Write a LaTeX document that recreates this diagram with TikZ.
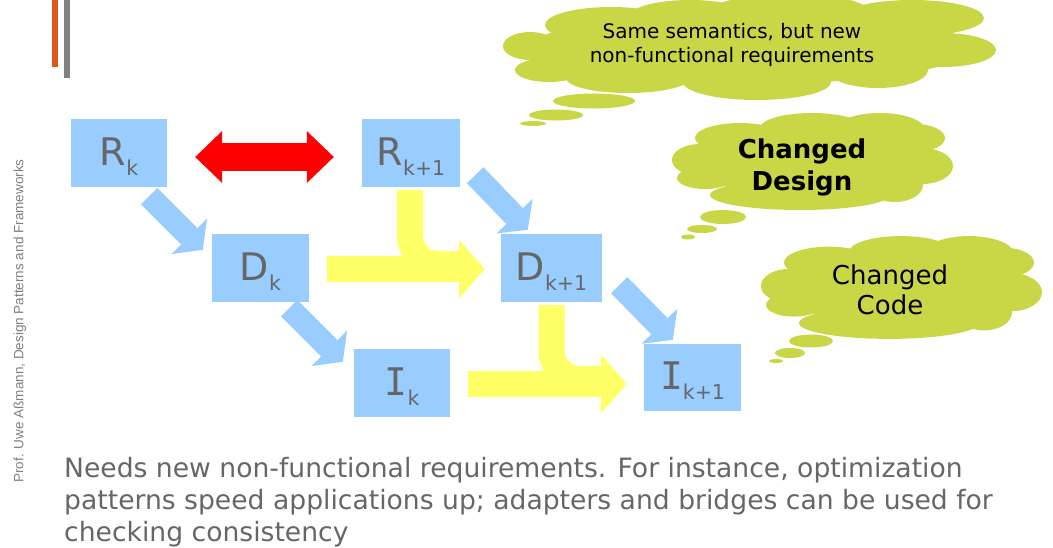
\documentclass[tikz,border=0pt]{standalone}
\usepackage{fontspec}
\setmainfont{DejaVu Sans}
\newfontfamily\sidefont{Liberation Sans}
\newfontfamily\slabfont{DejaVu Sans Mono}
\usetikzlibrary{arrows.meta,calc}
\definecolor{boxblue}{RGB}{153,204,255}
\definecolor{labelgray}{RGB}{102,102,102}
\definecolor{flowyellow}{RGB}{255,255,102}
\definecolor{cloudgreen}{RGB}{201,215,71}
\definecolor{barorange}{RGB}{224,86,26}
\definecolor{bargray}{RGB}{128,128,128}
\definecolor{arrowred}{RGB}{255,0,0}
\definecolor{bodygray}{RGB}{102,102,102}
\definecolor{sidegray}{RGB}{128,128,128}

% artefact label: large letter with a lowered index
\newcommand{\artlabel}[2]{{\fontsize{38}{38}\selectfont #1}\raisebox{-10pt}{\fontsize{20.5}{20.5}\selectfont #2}}

% body of a small thought cloud, drawn around the origin
\newcommand{\smallcloudbody}{%
  \fill[puff] (0,3) ellipse [x radius=110,y radius=35];
  \fill[puff] (-112,-2) ellipse [x radius=28,y radius=16];
  \fill[puff] (-107,16) ellipse [x radius=28,y radius=11];
  \fill[puff] (-12,33) ellipse [x radius=90,y radius=15];
  \fill[puff] (83,23) ellipse [x radius=28,y radius=17];
  \fill[puff] (110,4) ellipse [x radius=31,y radius=18];
  \fill[puff] (103,-24) ellipse [x radius=30,y radius=14];
  \fill[puff] (68,-32) ellipse [x radius=45,y radius=17];
  \fill[puff] (0,-34) ellipse [x radius=52,y radius=15];
  \fill[puff] (-72,-24) ellipse [x radius=45,y radius=15];
}

\begin{document}
\begin{tikzpicture}[x=1pt,y=-1pt,
  artbox/.style={fill=boxblue,draw=none,inner sep=0pt,minimum width=97pt,
    minimum height=68pt,text=labelgray,text height=31pt,text depth=7pt},
  refine/.style={draw=boxblue,line width=23pt,
    -{Triangle[length=19pt,width=50pt,line width=0pt]}},
  evolve/.style={draw=flowyellow,line width=26pt,
    -{Triangle[length=26pt,width=59pt,line width=0pt]}},
  evolveband/.style={draw=flowyellow,line width=26pt,rounded corners=28pt},
  swap/.style={draw=arrowred,line width=28pt,
    {Triangle[length=27pt,width=52pt,line width=0pt]}-{Triangle[length=27pt,width=52pt,line width=0pt]}},
  puff/.style={fill=cloudgreen,draw=none},
  cloudtext/.style={align=center,text=black}
]
\useasboundingbox (0,0) rectangle (1053,547);

% header bars
\fill[barorange] (52,-1) rectangle (58,67);
\fill[bargray] (64,-1) rectangle (70,78);

% side credit
\node[rotate=90,font=\sidefont\fontsize{13.5}{13.5}\selectfont,text=sidegray] (credit) at (20,321)
  {Prof. Uwe Aßmann, Design Patterns and Frameworks};

% artefact boxes
\node[artbox,minimum width=96pt] (Rk) at (119,153) {\artlabel{R}{k}};
\node[artbox,minimum width=98pt] (Rk1) at (411,153) {\artlabel{R}{k+1}};
\node[artbox] (Dk) at (260.5,268) {\artlabel{D}{k}};
\node[artbox,minimum width=101pt] (Dk1) at (551.5,268) {\artlabel{D}{k+1}};
\node[artbox,minimum width=96pt] (Ik) at (402,383) {\artlabel{\slabfont I}{k}};
\node[artbox,minimum height=67pt] (Ik1) at (692.5,377.5) {\artlabel{\slabfont I}{k+1}};

% requirement change
\draw[swap] ($(Rk.east)+(28,4)$) -- ($(Rk1.west)+(-28,4)$);

% refinement steps
\draw[refine] ($(Rk.south east)+(-18,9)$) -- ($(Dk.north west)+(-9,16)$);
\draw[refine] ($(Rk1.south east)+(15,-12)$) -- ($(Dk1.north west)+(27,-4)$);
\draw[refine] ($(Dk.south east)+(-20,6)$) -- ($(Ik.north west)+(-11,13)$);
\draw[refine] ($(Dk1.south east)+(17,-17)$) -- ($(Ik1.north west)+(29,-4)$);

% evolution into the new design
\coordinate (dhead) at ($(Dk1.west)+(-42,1)$);
\draw[evolveband] ($(Rk1.south)+(-1,3)$) |- ($(dhead)+(2,-5)$);
\draw[evolve] ($(Dk.east)+(18,1)$) -- ($(Dk1.west)+(-16,1)$);

% evolution into the new code
\coordinate (ihead) at ($(Ik1.west)+(-44,6.5)$);
\draw[evolveband] ($(Dk1.south)+(0,3)$) |- ($(ihead)+(2,-5)$);
\draw[evolve] ($(Ik.east)+(18,1)$) -- ($(Ik1.west)+(-17,6.5)$);

% large thought cloud
\begin{scope}[shift={(750,48)}]
  \coordinate (c1) at (0,0);
  \fill[puff] (0,0) ellipse [x radius=220,y radius=36];
  \fill[puff] (-220,-2) ellipse [x radius=27,y radius=14];
  \fill[puff] (-201,22) ellipse [x radius=34,y radius=12];
  \fill[puff] (-122,30) ellipse [x radius=62,y radius=15];
  \fill[puff] (7,34) ellipse [x radius=74,y radius=18];
  \fill[puff] (128,22) ellipse [x radius=50,y radius=18];
  \fill[puff] (193,2) ellipse [x radius=53,y radius=17];
  \fill[puff] (162,-30) ellipse [x radius=72,y radius=18];
  \fill[puff] (40,-36) ellipse [x radius=80,y radius=18];
  \fill[puff] (-60,-32) ellipse [x radius=60,y radius=16];
  \fill[puff] (-139,-23) ellipse [x radius=66,y radius=18];
\end{scope}
\node[cloudtext,font=\fontsize{20}{24}\selectfont] (t1) at (732,45)
  {Same semantics, but new\\non-functional requirements};
\fill[puff] (594,101) ellipse [x radius=41,y radius=7.5];
\fill[puff] (556,115) ellipse [x radius=27,y radius=5.5];
\fill[puff] (533,123.5) ellipse [x radius=13,y radius=2.5];

% design cloud
\begin{scope}[shift={(812,162)}]
  \coordinate (c2) at (0,0);
  \smallcloudbody
\end{scope}
\node[cloudtext,font=\bfseries\fontsize{26}{32}\selectfont] (t2) at (802,167) {Changed\\Design};
\fill[puff] (723,217) ellipse [x radius=23,y radius=7];
\fill[puff] (702,229) ellipse [x radius=15,y radius=4];
\fill[puff] (688,237) ellipse [x radius=7,y radius=2.5];

% code cloud
\begin{scope}[shift={(901,288)},yscale=1.06]
  \coordinate (c3) at (0,0);
  \smallcloudbody
\end{scope}
\node[cloudtext,font=\fontsize{26}{30}\selectfont] (t3) at (890,290) {Changed\\Code};
\fill[puff] (811,341) ellipse [x radius=22,y radius=6.5];
\fill[puff] (790,353) ellipse [x radius=15,y radius=5];
\fill[puff] (776,361) ellipse [x radius=7,y radius=2];

% explanation
\begin{scope}[every node/.style={anchor=base west,inner sep=0pt,text=bodygray,
    font=\fontsize{26.6}{32}\selectfont}]
\node (l1) at (64,477) {Needs new non-functional requirements. For instance, optimization};
\node (l2) at (64,509) {patterns speed applications up; adapters and bridges can be used for};
\node (l3) at (64,541) {checking consistency};
\end{scope}
\end{tikzpicture}
\end{document}
